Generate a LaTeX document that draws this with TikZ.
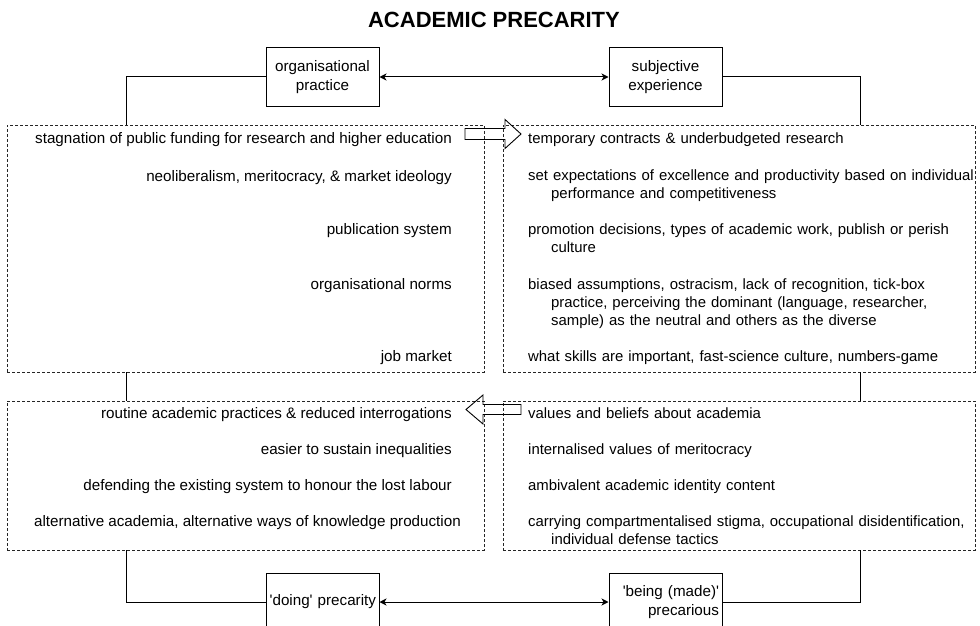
\documentclass[tikz,border=0pt]{standalone}
\usepackage{fontspec}
\setmainfont{Liberation Sans}
\usetikzlibrary{arrows.meta}
\begin{document}
\begin{tikzpicture}[x=1pt,y=-1pt,
  every node/.style={font=\fontsize{15.2}{18.2}\selectfont, text=black},
  headline/.style={font=\fontsize{22}{26}\selectfont\bfseries, inner sep=0pt},
  solidbox/.style={draw=black, line width=1pt, minimum width=113pt, minimum height=58pt, inner sep=3pt},
  dotbox/.style={draw=black!85, line width=0.8pt, dash pattern=on 2.6pt off 2.4pt, inner sep=0pt},
  link/.style={draw=black, line width=1pt},
  duplex/.style={link, {Stealth[length=7pt,width=7pt,inset=2pt]}-{Stealth[length=7pt,width=7pt,inset=2pt]}},
  blockarrow/.style={draw=black, line width=0.9pt, line join=miter},
  lefttext/.style={anchor=base east, inner sep=0pt},
  righttext/.style={anchor=base west, inner sep=0pt, text width=470pt, align=left,
    font=\fontsize{14.9}{18}\selectfont},
]
\useasboundingbox (0,0) rectangle (980,626);
\clip (0,0) rectangle (980,626);

% heading
\node[headline] (heading) at (494,20) {ACADEMIC PRECARITY};

% the two perspectives
\node[solidbox, align=center] (org) at (322.5,77) {organisational\\practice};
\node[solidbox, align=center] (subj) at (665.5,77) {subjective\\experience};
\draw[duplex] (org.east) -- (subj.west);

% dotted panels
\node[dotbox, minimum width=477pt, minimum height=247pt] (ul) at (245.5,248.5) {};
\node[dotbox, minimum width=472pt, minimum height=247pt] (ur) at (739,248.5) {};
\node[dotbox, minimum width=477pt, minimum height=149pt] (ll) at (245.5,475.5) {};
\node[dotbox, minimum width=472pt, minimum height=149pt] (lr) at (739,475.5) {};

% outcomes
\node[solidbox, text width=107pt, align=right] (doing) at (322.5,602) {\textquotesingle doing\textquotesingle{} precarity};
\node[solidbox, text width=107pt, align=right] (being) at (665.5,602) {\textquotesingle being (made)\textquotesingle\\precarious};
\draw[duplex] (doing.east) -- (being.west);

% frame connectors
\draw[link] (org.west) -| ([xshift=120pt]ul.north west);
\draw[link] (subj.east) -| ([xshift=-115pt]ur.north east);
\draw[link] ([xshift=120pt]ul.south west) -- ([xshift=120pt]ll.north west);
\draw[link] ([xshift=-115pt]ur.south east) -- ([xshift=-115pt]lr.north east);
\draw[link] ([xshift=120pt]ll.south west) |- (doing.west);
\draw[link] ([xshift=-115pt]lr.south east) |- (being.east);

% hollow block arrows
\draw[blockarrow] (465,128.5) -- (505,128.5) -- (505,119.5) -- (521,134) -- (505,148.5) -- (505,139.5) -- (465,139.5) -- cycle;
\draw[blockarrow] (521,404.5) -- (483,404.5) -- (483,395) -- (466,409.5) -- (483,424) -- (483,414.5) -- (521,414.5) -- cycle;

% upper panels
\node[lefttext] (u1) at (452,143) {stagnation of public funding for research and higher education};
\node[lefttext] (u2) at (452,181) {neoliberalism, meritocracy, \& market ideology};
\node[lefttext] (u3) at (452,234) {publication system};
\node[lefttext] (u4) at (452,289) {organisational norms};
\node[lefttext] (u5) at (452,361) {job market};

\node[righttext] (v1) at (528,143) {temporary contracts \& underbudgeted research};
\node[righttext] (v2) at (528,180) {set expectations of excellence and productivity based on individual\\\hspace*{23pt}performance and competitiveness};
\node[righttext] (v3) at (528,234) {promotion decisions, types of academic work, publish or perish\\\hspace*{23pt}culture};
\node[righttext] (v4) at (528,289) {biased assumptions, ostracism, lack of recognition, tick-box\\\hspace*{23pt}practice, perceiving the dominant (language, researcher,\\\hspace*{23pt}sample) as the neutral and others as the diverse};
\node[righttext] (v5) at (528,361) {what skills are important, fast-science culture, numbers-game};

% lower panels
\node[lefttext] (l1) at (452,418) {routine academic practices \& reduced interrogations};
\node[lefttext] (l2) at (452,454) {easier to sustain inequalities};
\node[lefttext] (l3) at (452,490) {defending the existing system to honour the lost labour};
\node[lefttext] (l4) at (461,526) {alternative academia, alternative ways of knowledge production};

\node[righttext] (r1) at (528,418) {values and beliefs about academia};
\node[righttext] (r2) at (528,454) {internalised values of meritocracy};
\node[righttext] (r3) at (528,490) {ambivalent academic identity content};
\node[righttext] (r4) at (528,526) {carrying compartmentalised stigma, occupational disidentification,\\\hspace*{23pt}individual defense tactics};
\end{tikzpicture}
\end{document}
